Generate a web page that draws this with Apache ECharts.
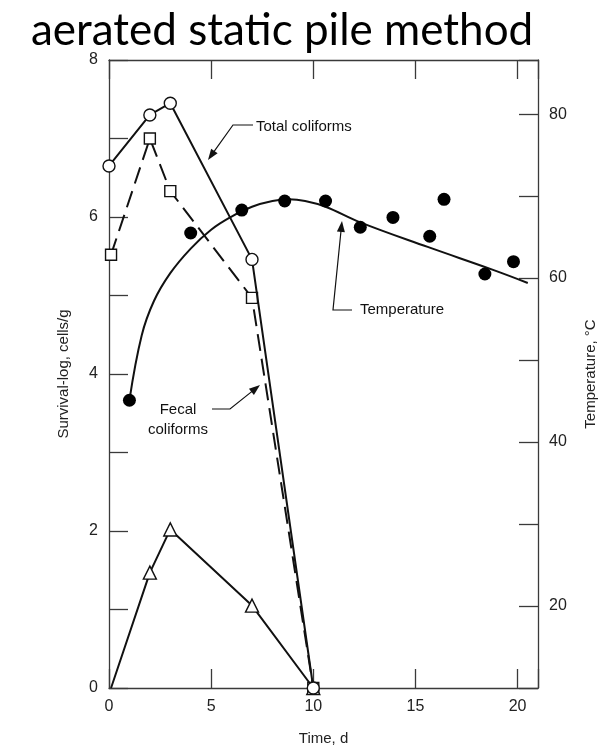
<!DOCTYPE html>
<html>
<head>
<meta charset="utf-8">
<script src="https://cdn.jsdelivr.net/npm/echarts@6/dist/echarts.min.js"></script>
<style>
  html, body { margin: 0; padding: 0; background: #fff; }
  #chart { width: 607px; height: 748px; }
</style>
</head>
<body>
<div id="chart"></div>
<script>
// Survival of coliforms (log cells/g) and pile temperature over time
const totalColiforms = [[0, 6.65], [2, 7.3], [3, 7.45], [7, 5.46], [10, 0]];
const fecalColiforms = [[0.1, 5.52], [2, 7.0], [3, 6.33], [7, 4.97], [10, 0]];
const thirdSeries = [[0.1, 0], [2, 1.47], [3, 2.02], [7, 1.05], [10, 0]];
const tempObserved = [[1, 45.1], [4, 65.5], [6.5, 68.3], [8.6, 69.4], [10.6, 69.4],
  [12.3, 66.2], [13.9, 67.4], [15.7, 65.1], [16.4, 69.6], [18.4, 60.5], [19.8, 62.0]];
const tempFit = [[1, 45.1], [1.6, 53], [2.2, 57.2], [3, 60.6], [4, 63.6], [5, 65.9],
  [6, 67.5], [7, 68.7], [8, 69.4], [8.8, 69.6], [9.6, 69.4], [10.6, 68.7],
  [12.3, 66.8], [15.6, 63.8], [18.8, 61.0], [20.5, 59.4]];
const leftTicks = [0, 2, 4, 6, 8];
const rightTicks = [20, 40, 60, 80];
const timeTicks = [0, 5, 10, 15, 20];

const chart = echarts.init(document.getElementById('chart'));
const FONT = 'Liberation Sans';
const axisColor = '#3a3a3a';

function arrow(points, tip, from) {
  const dx = tip[0] - from[0], dy = tip[1] - from[1];
  const L = Math.hypot(dx, dy), ux = dx / L, uy = dy / L;
  const hl = 11, hw = 4;
  const bx = tip[0] - ux * hl, by = tip[1] - uy * hl;
  return [
    { type: 'polyline', shape: { points: points.concat([[bx + ux * 2, by + uy * 2]]) },
      style: { stroke: '#111', lineWidth: 1.2, fill: null }, z: 20 },
    { type: 'polygon', shape: { points: [tip, [bx - uy * hw, by + ux * hw], [bx + uy * hw, by - ux * hw]] },
      style: { fill: '#111' }, z: 20 }
  ];
}

const openMark = { color: '#fff', borderColor: '#111', borderWidth: 1.4 };
const lineAxis = { show: true, onZero: false, lineStyle: { color: axisColor, width: 1.3 } };
const innerTick = { show: true, inside: true, length: 19, lineStyle: { color: axisColor, width: 1.3 } };
const tickLabel = { fontFamily: FONT, fontSize: 16, color: '#222', margin: 11 };
const nameStyle = { fontFamily: FONT, fontSize: 15, color: '#222' };

chart.setOption({
  animation: false,
  backgroundColor: '#fff',
  title: {
    text: 'aerated static pile method',
    left: 26, top: 4,
    textStyle: { fontFamily: 'Lato', fontSize: 44, fontWeight: 'normal', color: '#000' }
  },
  grid: { left: 109, right: 69, top: 60, bottom: 60, containLabel: false, outerBoundsMode: 'none' },
  xAxis: [{
    type: 'value', min: 0, max: 21, interval: 5,
    name: 'Time, d', nameLocation: 'middle', nameGap: 43, nameTextStyle: nameStyle,
    axisLine: lineAxis, axisTick: innerTick,
    axisLabel: Object.assign({}, tickLabel, { formatter: v => timeTicks.includes(v) ? String(v) : '' }),
    splitLine: { show: false }
  }, {
    type: 'value', min: 0, max: 21, interval: 5, position: 'top',
    axisLine: lineAxis, axisTick: innerTick,
    axisLabel: { show: false }, splitLine: { show: false }
  }],
  yAxis: [{
    type: 'value', min: 0, max: 8, interval: 1,
    name: 'Survival-log, cells/g', nameLocation: 'middle', nameGap: 38, nameTextStyle: nameStyle,
    axisLine: lineAxis, axisTick: innerTick,
    axisLabel: Object.assign({}, tickLabel, { formatter: v => leftTicks.includes(v) ? String(v) : '' }),
    splitLine: { show: false }
  }, {
    type: 'value', min: 10, max: 86.6, interval: 10, position: 'right',
    name: 'Temperature, °C', nameLocation: 'middle', nameGap: 45, nameRotate: 90,
    nameTextStyle: nameStyle,
    axisLine: lineAxis, axisTick: innerTick,
    axisLabel: Object.assign({}, tickLabel, { formatter: v => rightTicks.includes(v) ? String(v) : '' }),
    splitLine: { show: false }
  }],
  series: [{
    name: 'Total coliforms', type: 'line', data: totalColiforms,
    symbol: 'circle', symbolSize: 12, itemStyle: openMark,
    lineStyle: { color: '#111', width: 2 }, z: 5
  }, {
    name: 'Fecal coliforms', type: 'line', data: fecalColiforms,
    symbol: 'rect', symbolSize: 11, itemStyle: openMark,
    lineStyle: { color: '#111', width: 2, type: [17, 8] }, z: 4
  }, {
    name: 'Third group', type: 'line',
    // the curve starts at the origin without a marker
    data: thirdSeries.map((p, i) => i === 0 ? { value: p, symbol: 'none' } : p),
    symbol: 'triangle', symbolSize: 13, itemStyle: openMark,
    lineStyle: { color: '#111', width: 2 }, z: 4
  }, {
    name: 'Temperature fit', type: 'line', data: tempFit, yAxisIndex: 1,
    smooth: 0.4, showSymbol: false, symbol: 'none',
    lineStyle: { color: '#111', width: 2 }, z: 3
  }, {
    name: 'Temperature', type: 'scatter', data: tempObserved, yAxisIndex: 1,
    symbol: 'circle', symbolSize: 13, itemStyle: { color: '#000', opacity: 1 }, z: 6
  }],
  graphic: [
    ...arrow([[253, 125], [233, 125]], [208, 160], [233, 125]),
    { type: 'text', left: 256, top: 119, z: 20,
      style: { text: 'Total coliforms', font: '15px "Liberation Sans"', fill: '#111' } },
    ...arrow([[352, 310], [333, 310]], [342, 221], [333, 310]),
    { type: 'text', left: 360, top: 302, z: 20,
      style: { text: 'Temperature', font: '15px "Liberation Sans"', fill: '#111' } },
    ...arrow([[212, 409], [230, 409]], [260, 385], [230, 409]),
    { type: 'text', x: 178, y: 400, z: 20,
      style: { text: 'Fecal\ncoliforms', font: '15px "Liberation Sans"', fill: '#111',
        align: 'center', lineHeight: 20 } }
  ]
});
</script>
</body>
</html>
